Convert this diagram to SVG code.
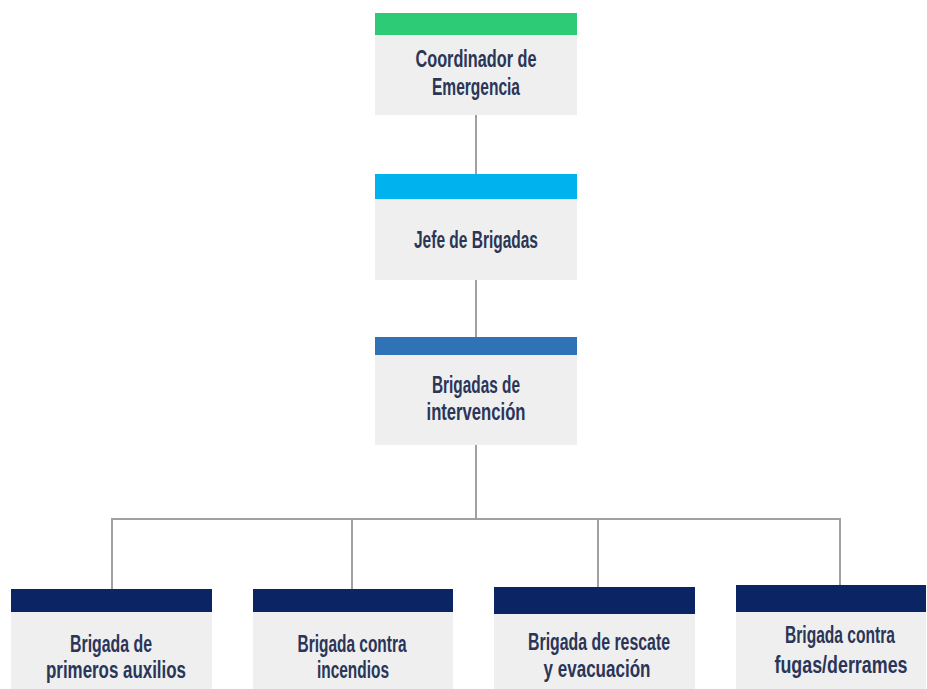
<svg xmlns="http://www.w3.org/2000/svg" width="927" height="689" viewBox="0 0 927 689">
<style>
.body{fill:#efefef}
.t{font-family:"Liberation Sans Narrow","Liberation Sans",Arial,sans-serif;font-weight:bold;font-size:23px;fill:#2a3558;text-anchor:middle}
.c{stroke:#a0a0a0;stroke-width:2;fill:none}
</style>
<rect width="927" height="689" fill="#ffffff"/>
<g id="connectors">
<line class="c" x1="476" y1="115" x2="476" y2="174"/>
<line class="c" x1="476" y1="280" x2="476" y2="337"/>
<line class="c" x1="476" y1="445" x2="476" y2="519"/>
<polyline class="c" points="112,589 112,519 840,519 840,585"/>
<line class="c" x1="352" y1="519" x2="352" y2="589"/>
<line class="c" x1="598" y1="519" x2="598" y2="587"/>
</g>
<g id="coordinador">
<rect class="body" x="375" y="35" width="202" height="80"/>
<rect x="375" y="13" width="202" height="22" fill="#2dcb76"/>
<text class="t" x="476" y="67" textLength="121" lengthAdjust="spacingAndGlyphs">Coordinador de</text>
<text class="t" x="476" y="95" textLength="88" lengthAdjust="spacingAndGlyphs">Emergencia</text>
</g>
<g id="jefe">
<rect class="body" x="375" y="199" width="202" height="81"/>
<rect x="375" y="174" width="202" height="25" fill="#00b3ee"/>
<text class="t" x="476" y="248" textLength="124" lengthAdjust="spacingAndGlyphs">Jefe de Brigadas</text>
</g>
<g id="intervencion">
<rect class="body" x="375" y="355" width="202" height="90"/>
<rect x="375" y="337" width="202" height="18" fill="#2f72b5"/>
<text class="t" x="476" y="393" textLength="88" lengthAdjust="spacingAndGlyphs">Brigadas de</text>
<text class="t" x="476" y="420" textLength="99" lengthAdjust="spacingAndGlyphs">intervención</text>
</g>
<g id="primeros">
<rect class="body" x="11" y="612" width="201" height="77"/>
<rect x="11" y="589" width="201" height="23" fill="#0b2464"/>
<text class="t" x="111" y="652" textLength="82" lengthAdjust="spacingAndGlyphs">Brigada de</text>
<text class="t" x="116" y="678" textLength="140" lengthAdjust="spacingAndGlyphs">primeros auxilios</text>
</g>
<g id="incendios">
<rect class="body" x="253" y="612" width="200" height="77"/>
<rect x="253" y="589" width="200" height="23" fill="#0b2464"/>
<text class="t" x="352" y="652" textLength="109" lengthAdjust="spacingAndGlyphs">Brigada contra</text>
<text class="t" x="353" y="678" textLength="72" lengthAdjust="spacingAndGlyphs">incendios</text>
</g>
<g id="rescate">
<rect class="body" x="494" y="614" width="201" height="75"/>
<rect x="494" y="587" width="201" height="27" fill="#0b2464"/>
<text class="t" x="599" y="650" textLength="142" lengthAdjust="spacingAndGlyphs">Brigada de rescate</text>
<text class="t" x="597" y="677" textLength="107" lengthAdjust="spacingAndGlyphs">y evacuación</text>
</g>
<g id="fugas">
<rect class="body" x="736" y="612" width="190" height="77"/>
<rect x="736" y="585" width="190" height="27" fill="#0b2464"/>
<text class="t" x="840" y="643" textLength="110" lengthAdjust="spacingAndGlyphs">Brigada contra</text>
<text class="t" x="841" y="673" textLength="133" lengthAdjust="spacingAndGlyphs">fugas/derrames</text>
</g>
</svg>
